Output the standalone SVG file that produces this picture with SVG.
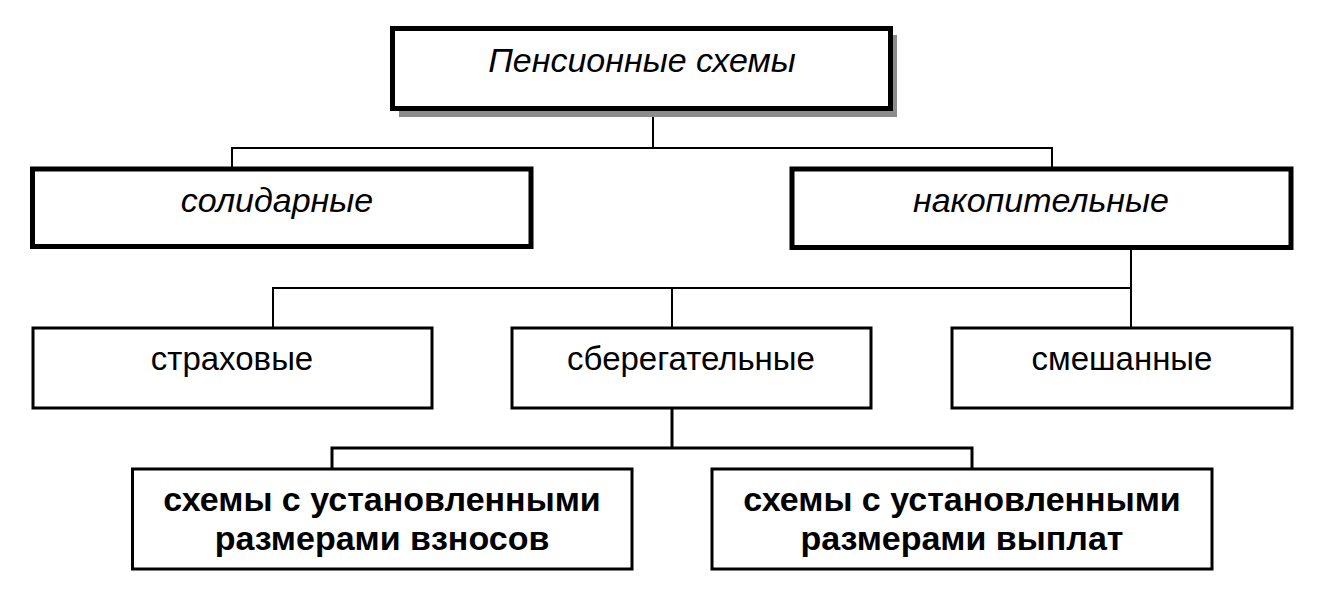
<svg xmlns="http://www.w3.org/2000/svg" width="1317" height="600" viewBox="0 0 1317 600">
<style>
.box{fill:#fff;stroke:#000}
.b5{stroke-width:5}
.b3{stroke-width:3}
.shadow{fill:#8c8c8c}
.t{font-family:"Liberation Sans",Arial,sans-serif;font-size:33px;fill:#000;text-anchor:middle}
.i{font-style:italic;font-size:34px}
.bold{font-weight:bold;font-size:34px}
.conn{fill:none;stroke:#000;stroke-width:2}
</style>
<rect width="1317" height="600" fill="#fff"/>
<g id="connectors">
<path class="conn" d="M653 108.5V148M232 167V148H1052V167"/>
<path class="conn" d="M1131 247.5V328M273 328V288H1131M672 288V328"/>
<path class="conn" d="M672 408V448M332 469V448H972V469" style="stroke-width:3"/>
</g>
<g id="n-root">
<rect class="shadow" x="399" y="35" width="498" height="82"/>
<rect class="box b5" x="392.5" y="28.5" width="498" height="80"/>
<text class="t i" x="642" y="72">Пенсионные схемы</text>
</g>
<g id="n-solid">
<rect class="box b5" x="32.5" y="169" width="498.5" height="77.5"/>
<text class="t i" x="277" y="212">солидарные</text>
</g>
<g id="n-nakop">
<rect class="box b5" x="792" y="169" width="499" height="78.5"/>
<text class="t i" x="1041" y="212">накопительные</text>
</g>
<g id="n-strah">
<rect class="box b3" x="33" y="328" width="399" height="80"/>
<text class="t" x="232" y="370">страховые</text>
</g>
<g id="n-sber">
<rect class="box b3" x="512" y="328" width="359" height="80"/>
<text class="t" x="691" y="370">сберегательные</text>
</g>
<g id="n-smesh">
<rect class="box b3" x="952" y="328" width="340" height="80"/>
<text class="t" x="1122" y="370">смешанные</text>
</g>
<g id="n-vznos">
<rect class="box b3" x="132.5" y="469" width="499.5" height="100"/>
<text class="t bold" x="382" y="511">схемы с установленными</text>
<text class="t bold" x="382" y="550">размерами взносов</text>
</g>
<g id="n-vypl">
<rect class="box b3" x="712" y="469" width="500" height="100"/>
<text class="t bold" x="962" y="511">схемы с установленными</text>
<text class="t bold" x="962" y="550">размерами выплат</text>
</g>
</svg>
